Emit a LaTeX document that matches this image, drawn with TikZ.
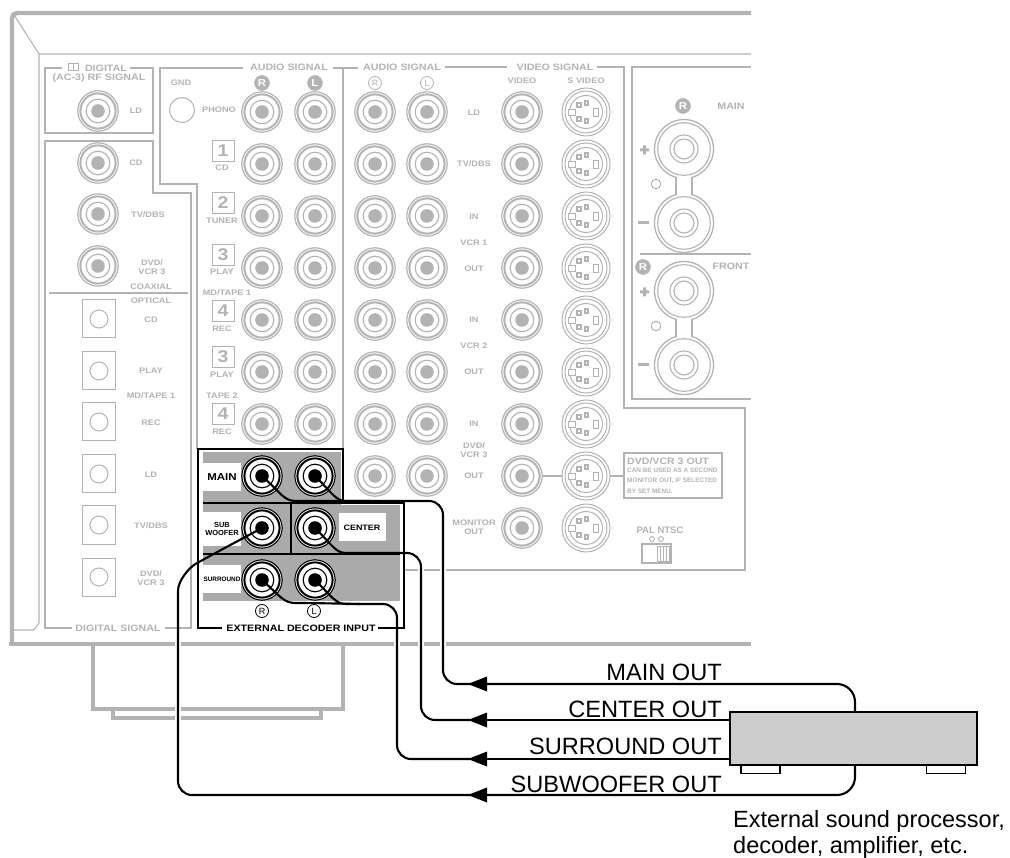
\documentclass[tikz,border=0pt]{standalone}
\usepackage{fontspec}
\setmainfont{Liberation Sans}
\newfontfamily\lab[FakeStretch=1.15]{Liberation Sans Bold}
\newfontfamily\labn{Liberation Sans Bold}
\newcounter{lblc}
\definecolor{gry}{HTML}{B3B3B3}
\definecolor{boxg}{HTML}{CCCCCC}
\tikzset{
  lab/.style={font=\lab\fontsize{8}{9.5}\selectfont,text=gry,align=center,inner sep=0pt},
  bigl/.style={lab,font=\lab\fontsize{9.3}{10}\selectfont},
  blk/.style={lab,text=black,font=\lab\fontsize{8.6}{9.6}\selectfont},
  tiny/.style={lab,align=left,anchor=west,font=\labn\fontsize{6.4}{7}\selectfont},
  thick box/.style={draw=gry,line width=2.4pt},
  thin box/.style={draw=gry,line width=1.1pt},
  blackline/.style={draw=black,line width=2.4pt},
  cable/.style={draw=black,line width=2.1pt,line cap=round,line join=round,rounded corners=14pt},
  outtext/.style={anchor=base east,font=\fontsize{23.6}{25}\selectfont,inner sep=0pt},
  proctext/.style={anchor=base west,font=\fontsize{23.5}{25}\selectfont,inner sep=0pt},
  halo/.style={draw=white,line width=6pt},
  rca/.pic={
    \fill[white] (0,0) circle (21pt);
    \draw[#1,line width=1.2pt] (0,0) circle (20.2pt);
    \draw[#1,line width=2pt] (0,0) circle (17.6pt);
    \draw[#1,line width=1.1pt] (0,0) circle (11.8pt);
    \fill[#1] (0,0) circle (6.8pt);
  },
  svideo/.pic={
    \draw[gry,line width=1pt] (0,0) circle (24pt);
    \draw[gry,line width=1pt] (0,0) circle (21pt);
    \draw[gry,line width=1pt] (0,0) circle (16.5pt);
    \draw[gry,line width=.9pt,fill=white] (-18,-3) rectangle (-11,3.5);
    \draw[gry,line width=.9pt,fill=white] (7,-4) rectangle (12,4);
    \foreach \px/\py in {-7/-7,0.7/-9,-7/7,0.7/9}{
      \fill[gry] (\px-2.6,\py-2.6) rectangle (\px+2.6,\py+2.6);
      \fill[white] (\px-.7,\py-.7) rectangle (\px+.7,\py+.7);
    }
  },
  speaker/.pic={
    \draw[gry,line width=1.3pt] (0,0) circle (29.5pt);
    \draw[gry,line width=1.3pt] (0,74) circle (29.5pt);
    \fill[white] (-7.5,27) rectangle (7.5,47);
    \draw[gry,line width=1.3pt] (-8,28) -- (-8,46) (8,28) -- (8,46);
    \foreach \sy in {0,74}{
      \draw[gry,line width=1.1pt] (0,\sy) circle (26.3pt);
      \draw[gry,line width=1.1pt] (0,\sy) circle (14pt);
      \draw[gry,line width=1.1pt] (0,\sy) circle (10pt);
    }
  },
  optical/.pic={
    \draw[gry,line width=1pt] (-16.5,-19) rectangle (16.5,19);
    \draw[gry,line width=1pt] (0,0) circle (9pt);
  },
  numbox/.style={draw=gry,line width=1pt,minimum width=22pt,minimum height=21pt,inner sep=0pt,
    text=gry,font=\lab\fontsize{17}{17}\selectfont}
}
\newcommand\lbl[4][lab]{\stepcounter{lblc}\node[#1] (lbl\arabic{lblc}) at (#2,#3) {#4};}
\newcommand\numb[2]{\stepcounter{lblc}\node[numbox] (lbl\arabic{lblc}) at (223,#1) {#2};}
\newcommand\badge[3]{\stepcounter{lblc}\node[circle,fill=gry,draw=gry,line width=.5pt,minimum size=15pt,inner sep=0pt,
  text=white,font=\lab\fontsize{10}{10}\selectfont] (lbl\arabic{lblc}) at (#1,#2) {#3};}
\newcommand\rbadge[4]{\stepcounter{lblc}\node[circle,draw=#4,line width=.8pt,minimum size=13pt,inner sep=0pt,
  text=#4,font=\fontsize{9}{9}\selectfont] (lbl\arabic{lblc}) at (#1,#2) {#3};}
\begin{document}
\begin{tikzpicture}[x=1pt,y=-1pt]
\useasboundingbox (0,0) rectangle (1010,858);
% chassis
\draw[gry,line width=4.4pt,rounded corners=5pt] (751,13) -- (12,13) -- (12,644);
\draw[gry,line width=4.4pt] (9,644) -- (751,644);
\draw[gry,line width=1.1pt] (14,15) -- (39,54) -- (751,54);
\draw[gry,line width=1.1pt] (39,54) -- (39,623) -- (34,630) -- (14,630);
% stand
\draw[gry,line width=4.4pt] (93,644) -- (93,709) -- (343,709) -- (343,644);
\draw[gry,line width=3.6pt] (113,709) -- (113,718) -- (321,718) -- (321,709);
% panels
\draw[thick box] (62,68) -- (45,68) -- (45,133) -- (153,133) -- (153,68) -- (130,68);
\draw[thick box] (72,628) -- (45,628) -- (45,141) -- (153,141) -- (153,193) -- (191,193) -- (191,628) -- (165,628);
\draw[thick box] (49,293) -- (188,293);
\draw[thick box] (243,68) -- (160,68) -- (160,184) -- (197,184) -- (197,449);
\draw[thick box] (333,68) -- (358,68) (343,68) -- (343,449);
\draw[thick box] (445,67) -- (507,67);
\draw[thick box] (597,67) -- (624,67) -- (624,408) -- (745,408) -- (745,570) -- (404,570);
\draw[thick box] (751,67) -- (632,67) -- (632,399) -- (751,399);
\draw[thick box] (640,254) -- (751,254);
% dark panel
\fill[gry!95!black] (203,452) rectangle (341,601);
\fill[gry!95!black] (341,505) rectangle (400,601);
\draw[blackline] (222,628) -- (198,628) -- (198,449) -- (343,449) -- (343,503) -- (404,503) -- (404,628) -- (378,628);
\draw[blackline] (203,503) -- (343,503);
\draw[blackline] (291,503) -- (291,554);
\draw[blackline] (203,554) -- (400,554);
\fill[white] (203,463) rectangle (241,491);
\fill[white] (203,512) rectangle (241,546);
\fill[white] (203,565) rectangle (241,593);
\fill[white] (339,513) rectangle (386,541);
% jacks
\foreach \yy in {112,164,216,268,320,372,424}{
  \pic at (262,\yy) {rca=gry};
  \pic at (315,\yy) {rca=gry};
}
\foreach \yy in {112,164,216,268,320,372,424,476}{
  \pic at (375,\yy) {rca=gry};
  \pic at (427,\yy) {rca=gry};
}
\foreach \yy in {112,164,216,268,320,372,424,476,528}{
  \pic at (522,\yy) {rca=gry};
  \pic at (586,\yy) {svideo};
}
\foreach \yy in {111,163,214,266}{\pic at (98,\yy) {rca=gry};}
\foreach \yy in {319,371,422,474,525,577}{\pic at (99,\yy) {optical};}
\foreach \yy in {476,528,580}{
  \pic at (262,\yy) {rca=black};
  \pic at (315,\yy) {rca=black};
}
\pic at (684,149) {speaker};
\pic at (684,291) {speaker};
\draw[gry,line width=1pt] (182,110) circle (12.5pt);
\draw[gry,line width=1pt] (656,184) circle (4.8pt);
\draw[gry,line width=1pt] (656,326) circle (4.8pt);
% DVD out link
\draw[gry,line width=2.2pt] (543,476) -- (562,476) (610,476) -- (624,476);
\draw[thin box,line width=1.3pt] (624,453) rectangle (722,498);
% plus/minus
\foreach \yy in {150,292}{\fill[gry] (640,\yy-1.5) rectangle (649,\yy+1.5) (643,\yy-4.5) rectangle (646,\yy+4.5);}
\foreach \yy in {223,365}{\fill[gry] (638,\yy-1.5) rectangle (649,\yy+1.5);}
% PAL switch
\draw[gry,line width=.9pt] (652,539) circle (2.5pt) (661,539) circle (2.5pt);
\draw[gry,line width=1.3pt] (642,544) rectangle (671,563);
\draw[gry,line width=.8pt] (657,546) rectangle (669,561);
\draw[gry,line width=.7pt] (660,546) -- (660,561) (663,546) -- (663,561) (666,546) -- (666,561);
% digital icon
\draw[gry,line width=1pt] (68,64) rectangle (78,71) (73,64) -- (73,71);
% labels
\lbl[bigl]{106}{68}{DIGITAL}
\lbl[bigl]{99}{78}{(AC-3) RF SIGNAL}
\lbl{136}{111}{LD}
\lbl{181}{83}{GND}
\lbl{219}{110}{PHONO}
\lbl{136}{163}{CD}
\lbl{148}{215}{TV/DBS}
\lbl{152}{267}{DVD/\\VCR 3}
\lbl{151}{287}{COAXIAL}
\lbl{151}{301}{OPTICAL}
\lbl{151}{320}{CD}
\lbl{151}{371}{PLAY}
\lbl{151}{396}{MD/TAPE 1}
\lbl{151}{423}{REC}
\lbl{151}{475}{LD}
\lbl{151}{526}{TV/DBS}
\lbl{151}{578}{DVD/\\VCR 3}
\lbl[bigl]{118}{628}{DIGITAL SIGNAL}
\lbl[bigl]{289}{67}{AUDIO SIGNAL}
\lbl[bigl]{402}{67}{AUDIO SIGNAL}
\lbl[bigl]{555}{67}{VIDEO SIGNAL}
\lbl{522}{81}{VIDEO}
\lbl{586}{81}{S VIDEO}
\badge{262}{83}{R}
\badge{315}{83}{L}
\rbadge{375}{83}{R}{gry}
\rbadge{427}{83}{L}{gry}
\badge{683}{106}{R}
\badge{643}{267}{R}
\lbl[bigl]{731}{106}{MAIN}
\lbl[bigl]{731}{266}{FRONT}
\numb{151}{1}
\lbl{222}{168}{CD}
\numb{203}{2}
\lbl{222}{221}{TUNER}
\numb{255}{3}
\lbl{222}{272}{PLAY}
\lbl{227}{293}{MD/TAPE 1}
\numb{311}{4}
\lbl{222}{329}{REC}
\numb{357}{3}
\lbl{222}{375}{PLAY}
\lbl{222}{396}{TAPE 2}
\numb{414}{4}
\lbl{222}{432}{REC}
\lbl{474}{113}{LD}
\lbl{474}{164}{TV/DBS}
\lbl{474}{217}{IN}
\lbl{474}{243}{VCR 1}
\lbl{474}{269}{OUT}
\lbl{474}{320}{IN}
\lbl{474}{346}{VCR 2}
\lbl{474}{372}{OUT}
\lbl{474}{424}{IN}
\lbl{474}{450}{DVD/\\VCR 3}
\lbl{474}{476}{OUT}
\lbl{474}{527}{MONITOR\\OUT}
\lbl[tiny,font=\lab\fontsize{9.2}{9.5}\selectfont]{627}{461}{DVD/VCR 3 OUT}
\lbl[tiny]{627}{470}{CAN BE USED AS A SECOND}
\lbl[tiny]{627}{481}{MONITOR OUT, IF SELECTED}
\lbl[tiny]{627}{491}{BY SET MENU.}
\lbl[lab,font=\labn\fontsize{9.5}{10}\selectfont]{660}{530}{PAL NTSC}
% black labels
\lbl[blk,font=\lab\fontsize{10}{11}\selectfont]{222}{477}{MAIN}
\lbl[blk,font=\labn\fontsize{7.4}{8}\selectfont]{222}{529}{SUB\\WOOFER}
\lbl[blk,font=\labn\fontsize{6.4}{7}\selectfont]{222}{579}{SURROUND}
\lbl[blk,font=\lab\fontsize{7.8}{9}\selectfont]{362}{528}{CENTER}
\lbl[blk,font=\lab\fontsize{9.3}{10}\selectfont]{301}{628}{EXTERNAL DECODER INPUT}
\rbadge{262}{611}{R}{black}
\rbadge{314}{611}{L}{black}
% halos where the cables cross the panel lines
\draw[halo] (178,640) -- (178,648) (178,705) -- (178,722);
\draw[halo] (397,640) -- (397,648);
\draw[halo] (421,566) -- (421,574) (421,640) -- (421,648);
\draw[halo] (443,566) -- (443,574) (443,640) -- (443,648);
% processor feet
\node[draw=black,fill=white,minimum width=39pt,minimum height=9pt,inner sep=0pt,line width=1.2pt] (foota) at (760.5,769) {};
\node[draw=black,fill=white,minimum width=39pt,minimum height=9pt,inner sep=0pt,line width=1.2pt] (footb) at (946,769) {};
% connector endpoints
\coordinate (mainR) at (262,476);
\coordinate (mainL) at (315,476);
\coordinate (subR) at (262,528);
\coordinate (cenL) at (315,528);
\coordinate (surR) at (262,580);
\coordinate (surL) at (315,580);
\coordinate (headA) at (470,684);
\coordinate (headB) at (470,720);
\coordinate (headC) at (470,759);
\coordinate (headD) at (470,795);
% right-hand cable parts go under the processor box
\draw[cable,rounded corners=18pt] (855,712) -- (855,684) -- (headA);
\draw[cable] (729,720) -- (headB);
\draw[cable] (729,759) -- (headC);
\draw[cable,rounded corners=18pt] (855,765) -- (855,795) -- (headD);
\node[draw=black,line width=2pt,fill=boxg,minimum width=247pt,minimum height=53pt,inner sep=0pt] (proc) at (853,738.5) {};
% arrowheads
\foreach \yy in {684,720,759,795}{\fill (468,\yy) -- (487,\yy-7.5) -- (487,\yy+7.5) -- cycle;}
% left-hand cable parts
\draw[cable] (mainR) .. controls (282,494) and (284,501) .. (310,501) -- (370,501);
\draw[cable] (mainL) .. controls (333,494) and (336,501) .. (360,501) -- (443,501) -- (443,684) -- (headA);
\draw[cable] (cenL) .. controls (333,546) and (336,553) .. (360,553) -- (421,553) -- (421,720) -- (headB);
\draw[cable] (surR) .. controls (282,598) and (284,603) .. (310,603) -- (360,604);
\draw[cable] (surL) .. controls (333,598) and (336,604) .. (360,604) -- (397,604) -- (397,759) -- (headC);
\draw[cable] (subR) -- (208,557) .. controls (190,567) and (178,580) .. (178,605) -- (178,795) -- (headD);
% outputs
\node[outtext] (tmain) at (722,680) {MAIN OUT};
\node[outtext] (tcen) at (722,717) {CENTER OUT};
\node[outtext] (tsur) at (722,754) {SURROUND OUT};
\node[outtext] (tsub) at (722,792) {SUBWOOFER OUT};
\node[proctext] (tproc) at (733,827) {External sound processor,};
\node[proctext] (tproc2) at (733,853) {decoder, amplifier, etc.};
\end{tikzpicture}
\end{document}
